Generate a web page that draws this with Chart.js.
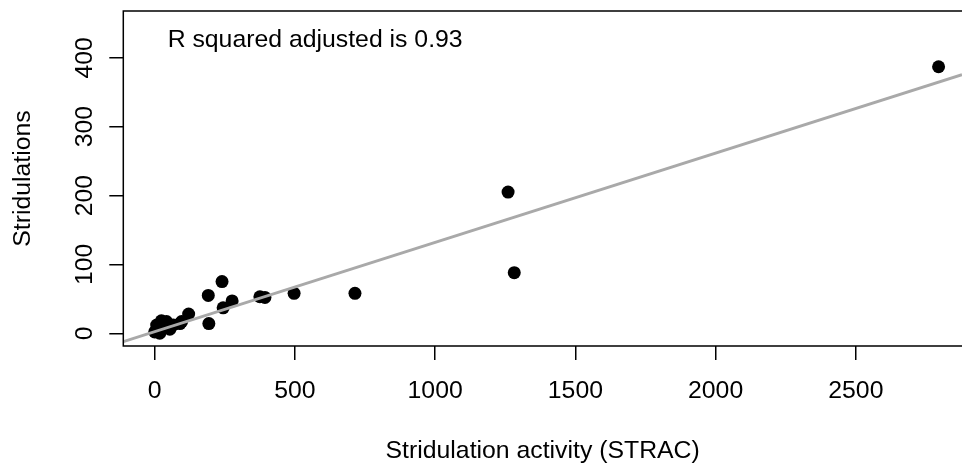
<!DOCTYPE html>
<html>
<head>
<meta charset="utf-8">
<script src="https://cdn.jsdelivr.net/npm/chart.js@4"></script>
<style>
  html, body { margin: 0; padding: 0; background: #fff; overflow: hidden; }
  #myChart { display: block; }
</style>
</head>
<body>
<canvas id="myChart" width="962" height="469"></canvas>
<script>
'use strict';
// data
let strac = [2795, 1260, 1282, 714, 497, 375, 393, 276, 244, 240, 191, 193, 121, 96, 90, 66, 42, 24, 7, 0, 18, 54, 30, 10];
let stridulations = [387, 205, 88, 58, 58, 53, 52, 47, 37, 75, 55, 14, 28, 17, 14, 12, 17, 18, 12, 2, 0, 6, 8, 4];

// fitted line (intercept, slope)
let fitIntercept = 2.3;
let fitSlope = 0.1296;

// axes (the plot is cut at the right edge of the picture)
let xLimits = [-112, 2878.5];
let yLimits = [-18.5, 468];
let xTicks = [0, 500, 1000, 1500, 2000, 2500];
let yTicks = [0, 100, 200, 300, 400];

let xTitle = 'Stridulation activity (STRAC)';
let yTitle = 'Stridulations';
let note = 'R squared adjusted is 0.93';
let notePos = [572, 425];

let fontFamily = '"Liberation Sans", Arial, sans-serif';
let fontSize = 24.8;

let points = [];
for (let i = 0; i < strac.length; i++) {
    points.push({ x: strac[i], y: stridulations[i] });
}
let fitLine = [
    { x: xLimits[0], y: fitIntercept + fitSlope * xLimits[0] },
    { x: xLimits[1], y: fitIntercept + fitSlope * xLimits[1] }
];

// box (no right side), rotated y labels and the note
let extras = {
    id: 'extras',
    afterDraw(chart) {
        let ctx = chart.ctx;
        let a = chart.chartArea;
        let xs = chart.scales.x;
        let ys = chart.scales.y;
        ctx.save();
        ctx.strokeStyle = '#000';
        ctx.lineWidth = 1.5;
        ctx.beginPath();
        ctx.moveTo(a.right + 2, a.top);
        ctx.lineTo(a.left, a.top);
        ctx.lineTo(a.left, a.bottom);
        ctx.lineTo(a.right + 2, a.bottom);
        ctx.stroke();

        ctx.fillStyle = '#000';
        ctx.font = fontSize + 'px ' + fontFamily;
        ctx.textAlign = 'center';
        ctx.textBaseline = 'alphabetic';
        for (let i = 0; i < yTicks.length; i++) {
            ctx.save();
            ctx.translate(92, ys.getPixelForValue(yTicks[i]));
            ctx.rotate(-Math.PI / 2);
            ctx.fillText(String(yTicks[i]), 0, 0);
            ctx.restore();
        }

        ctx.textBaseline = 'middle';
        ctx.fillText(note, xs.getPixelForValue(notePos[0]), ys.getPixelForValue(notePos[1]));
        ctx.restore();
    }
};

let ctx = document.getElementById('myChart').getContext('2d');
let myChart = new Chart(ctx, {
    type: 'scatter',
    data: {
        datasets: [{
            type: 'line',
            data: fitLine,
            borderColor: '#a9a9a9',
            borderWidth: 3,
            pointRadius: 0,
            fill: false,
            order: 0
        }, {
            data: points,
            backgroundColor: '#000',
            borderColor: '#000',
            borderWidth: 0,
            pointRadius: 6.5,
            order: 1
        }]
    },
    options: {
        responsive: false,
        animation: false,
        devicePixelRatio: 1,
        layout: { autoPadding: false, padding: { left: 0, right: 0, top: 11, bottom: 0 } },
        plugins: {
            legend: { display: false },
            tooltip: { enabled: false }
        },
        scales: {
            x: {
                type: 'linear',
                position: 'bottom',
                min: xLimits[0],
                max: xLimits[1],
                afterBuildTicks: (scale) => { scale.ticks = xTicks.map(v => ({ value: v })); },
                afterFit: (scale) => {
                    scale.height = 123;
                    scale.paddingLeft = 0;
                    scale.paddingRight = 0;
                },
                border: { display: false },
                grid: { drawOnChartArea: false, drawTicks: true, tickLength: 14, color: '#000', lineWidth: 1.5 },
                ticks: {
                    color: '#000',
                    padding: 16.3,
                    maxRotation: 0,
                    autoSkip: false,
                    callback: (value) => String(value),
                    font: { family: fontFamily, size: fontSize }
                },
                title: {
                    display: true,
                    text: xTitle,
                    color: '#000',
                    padding: { top: 0, bottom: 3.3 },
                    font: { family: fontFamily, size: fontSize }
                }
            },
            y: {
                type: 'linear',
                min: yLimits[0],
                max: yLimits[1],
                afterBuildTicks: (scale) => { scale.ticks = yTicks.map(v => ({ value: v })); },
                afterFit: (scale) => {
                    scale.width = 123.3;
                    scale.paddingTop = 0;
                    scale.paddingBottom = 0;
                },
                border: { display: false },
                grid: { drawOnChartArea: false, drawTicks: true, tickLength: 14, color: '#000', lineWidth: 1.5 },
                ticks: { display: false },
                title: {
                    display: true,
                    text: yTitle,
                    color: '#000',
                    padding: { top: 7.8, bottom: 0 },
                    font: { family: fontFamily, size: fontSize }
                }
            }
        }
    },
    plugins: [extras]
});
</script>
</body>
</html>
